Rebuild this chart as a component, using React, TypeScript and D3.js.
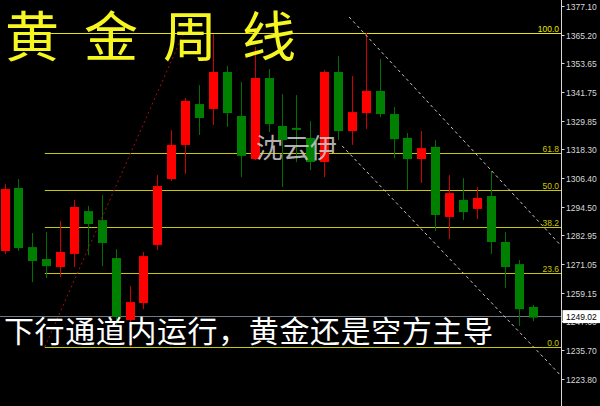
import * as d3 from "d3";

// weekly gold candles (red = up, green = down)
const opens = [1276.4, 1302.3, 1278.0, 1273.1, 1269.8, 1275.2, 1292.8, 1289.1, 1273.5, 1248.0, 1255.0, 1278.9, 1306.0, 1320.0, 1336.8, 1334.8, 1350.0, 1331.9, 1314.2, 1347.5, 1327.8, 1327.0, 1322.9, 1313.0, 1350.0, 1325.7, 1333.1, 1342.2, 1332.7, 1322.9, 1314.2, 1319.2, 1290.4, 1297.4, 1293.7, 1299.0, 1280.1, 1271.0, 1253.4];
const highs = [1303.9, 1306.0, 1283.8, 1284.2, 1288.7, 1297.4, 1294.9, 1299.4, 1277.2, 1262.0, 1276.0, 1307.6, 1326.1, 1339.3, 1344.6, 1365.5, 1352.5, 1345.9, 1360.3, 1351.2, 1340.9, 1340.5, 1329.8, 1350.8, 1356.6, 1348.3, 1366.0, 1355.3, 1335.6, 1324.9, 1325.7, 1322.0, 1307.6, 1306.4, 1302.7, 1309.3, 1284.2, 1272.7, 1254.2];
const lows = [1275.2, 1276.4, 1263.6, 1265.3, 1265.7, 1269.8, 1274.7, 1270.2, 1246.0, 1237.0, 1252.5, 1276.8, 1305.2, 1308.1, 1324.1, 1328.2, 1327.4, 1306.8, 1313.8, 1325.3, 1302.7, 1313.0, 1309.7, 1306.8, 1322.0, 1320.0, 1326.6, 1331.5, 1314.6, 1301.5, 1304.4, 1284.6, 1281.3, 1289.1, 1289.5, 1275.2, 1261.2, 1245.6, 1247.6];
const closes = [1301.9, 1277.6, 1272.3, 1270.2, 1276.0, 1294.5, 1287.5, 1279.7, 1249.3, 1255.4, 1274.3, 1303.1, 1320.0, 1338.1, 1331.1, 1350.0, 1333.1, 1315.5, 1347.5, 1328.6, 1322.0, 1326.2, 1313.0, 1350.0, 1325.7, 1333.5, 1342.2, 1332.7, 1322.4, 1314.2, 1318.7, 1291.2, 1300.2, 1292.4, 1298.2, 1280.1, 1269.8, 1252.5, 1249.02];

// fibonacci retracement
const fibLevels = [0.0, 23.6, 38.2, 50.0, 61.8, 100.0];
const fibLow = 1237.0;
const fibHigh = 1366.0;
const fibAnchors: [number, number][] = [[2.9, 1237.0], [12.9, 1366.0]];

// down channel [candle index, price]
const channelUpper: [number, number][] = [[24.8, 1372.6], [40.0, 1278.9]];
const channelLower: [number, number][] = [[24.3, 1319.6], [40.0, 1225.4]];

const axisTicks = [1377.1, 1365.2, 1353.65, 1341.75, 1329.85, 1318.3, 1306.4, 1294.5, 1282.95, 1271.05, 1259.15, 1247.6, 1235.7, 1223.8, 1211.9];
const lastPrice = 1249.02;

const title = "黄金周线";
const watermark = "沈云伊";
const caption = "下行通道内运行，黄金还是空方主导";

export default function App() {
  const width = 600;
  const height = 406;
  const axisX = 561.5;

  const x = d3.scaleLinear([0, opens.length - 1], [4.5, 532.5]);
  const y = d3.scaleLinear([1365.2, 1235.7], [35, 350]);
  const bw = 9;

  const line = d3
    .line<[number, number]>()
    .x((d) => x(d[0]))
    .y((d) => y(d[1]));

  const fibStart = x(fibAnchors[0][0]);

  return (
    <div style={{ position: "absolute", left: 0, top: 0 }}>
      <svg width={width} height={height} style={{ display: "block", background: "#000" }}>
        <rect width={width} height={height} fill="#000" />

        {/* fib levels */}
        {fibLevels.map((lv) => {
          const yy = Math.round(y(fibLow + ((fibHigh - fibLow) * lv) / 100)) + 0.5;
          const col = lv === 100 ? "#e6e600" : "#c8c800";
          return (
            <g key={lv}>
              <line x1={fibStart} x2={axisX} y1={yy} y2={yy} stroke={col} strokeWidth={1} />
              <text x={559} y={yy - 2} textAnchor="end" fontFamily="Liberation Sans, Arial" fontSize={8.5} fill={col}>
                {lv.toFixed(1)}
              </text>
            </g>
          );
        })}

        {/* last price line */}
        <line x1={0} x2={axisX} y1={Math.round(y(lastPrice)) - 1.5} y2={Math.round(y(lastPrice)) - 1.5} stroke="#6f7a86" strokeWidth={1} />

        {/* candles */}
        {opens.map((o, i) => {
          const c = closes[i];
          const up = c >= o;
          const col = up ? "#ff0000" : "#008000";
          const cx = Math.round(x(i)) + 0.5;
          const top = y(Math.max(o, c));
          const bot = y(Math.min(o, c));
          return (
            <g key={i}>
              <line x1={cx} x2={cx} y1={y(highs[i])} y2={y(lows[i])} stroke={up ? "#d00000" : "#007000"} strokeWidth={1} />
              <rect x={cx - bw / 2} y={top} width={bw} height={Math.max(1, bot - top)} fill={col} />
            </g>
          );
        })}

        {/* fib anchor line */}
        <path d={line(fibAnchors) ?? ""} fill="none" stroke="#a01010" strokeWidth={1} strokeDasharray="2,3" />

        {/* channel */}
        <path d={line(channelUpper) ?? ""} fill="none" stroke="#c8c8c8" strokeWidth={1} strokeDasharray="3,3" />
        <path d={line(channelLower) ?? ""} fill="none" stroke="#c8c8c8" strokeWidth={1} strokeDasharray="3,3" />

        {/* right axis */}
        <rect x={axisX + 0.5} y={0} width={width - axisX} height={height} fill="#000" />
        <line x1={axisX} x2={axisX} y1={0} y2={height} stroke="#d8d8d8" strokeWidth={1} />
        {axisTicks.map((t) => {
          const yy = Math.round(y(t)) + 0.5;
          return (
            <g key={t}>
              <line x1={axisX} x2={axisX + 3} y1={yy} y2={yy} stroke="#d8d8d8" />
              <text x={566} y={yy + 3} fontFamily="Liberation Sans, Arial" fontSize={8.5} fill="#d8d8d8">
                {t.toFixed(2)}
              </text>
            </g>
          );
        })}
        <rect x={axisX + 1} y={y(lastPrice) - 7.5} width={width - axisX} height={13} fill="#fff" />
        <text x={566} y={y(lastPrice) + 2.5} fontFamily="Liberation Sans, Arial" fontSize={8.5} fill="#000">
          {lastPrice.toFixed(2)}
        </text>

        {/* texts */}
        <text x={5} y={57} fontFamily="Noto Sans CJK SC" fontSize={54} letterSpacing={25} fill="#f6f620">
          {title}
        </text>
        <text x={256} y={158} fontFamily="Noto Sans CJK SC" fontSize={27} fill="#d0d0d0" fillOpacity={0.85}>
          {watermark}
        </text>
        <text x={4} y={342} fontFamily="Noto Sans CJK SC" fontSize={30} letterSpacing={0.6} fill="#ffffff">
          {caption}
        </text>
      </svg>
    </div>
  );
}
